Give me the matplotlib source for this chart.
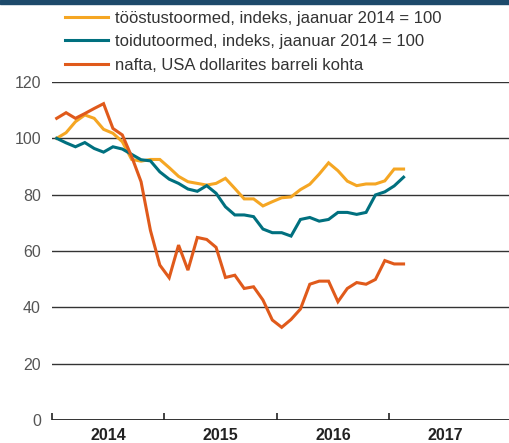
import numpy as np
import matplotlib.pyplot as plt
from matplotlib.lines import Line2D

plt.rcParams['font.family'] = ['Liberation Sans', 'DejaVu Sans']

# monthly values, January 2014 .. February 2017
industrial = [100, 102, 105.9, 108.3, 107.1, 103.2, 101.8, 98.8, 92.5, 91.9,
              92.5, 92.5, 89.6, 86.5, 84.6, 84.0, 83.4, 84.0, 85.8, 82.2,
              78.5, 78.5, 76.0, 77.5, 78.9, 79.2, 81.8, 83.7, 87.3, 91.3,
              88.5, 84.8, 83.2, 83.8, 83.8, 84.9, 89.1, 89.1]
food = [100, 98.4, 97.0, 98.5, 96.4, 95.1, 97.0, 96.2, 94.3, 92.4,
        92.0, 88.1, 85.5, 84.0, 82.0, 81.2, 83.2, 80.5, 75.7, 72.8,
        72.8, 72.2, 67.8, 66.5, 66.5, 65.3, 71.2, 71.9, 70.6, 71.2,
        73.7, 73.7, 73.0, 73.7, 79.9, 81.0, 83.1, 86.2]
oil = [107.1, 109.1, 107.1, 108.8, 110.6, 112.3, 103.5, 101.2, 93.5, 84.6,
       67.3, 55.0, 50.5, 62.1, 53.2, 64.8, 64.1, 61.3, 50.6, 51.4,
       46.7, 47.3, 42.6, 35.5, 32.9, 35.7, 39.4, 48.2, 49.3, 49.3,
       42.0, 46.7, 48.8, 48.2, 49.9, 56.6, 55.4, 55.4]

labels = ['tööstustoormed, indeks, jaanuar 2014 = 100',
          'toidutoormed, indeks, jaanuar 2014 = 100',
          'nafta, USA dollarites barreli kohta']
colors = ['#f5a623', '#00707f', '#e05a1b']
years = ['2014', '2015', '2016', '2017']
yticks = [0, 20, 40, 60, 80, 100, 120]

fig = plt.figure(figsize=(5.10, 4.43), dpi=100)
W, H = 510, 443
ax = fig.add_axes([52 / W, 23 / H, (W - 52) / W, (420 - 82) / H])

x = np.arange(len(oil)) + 0.5
for series, c in zip([industrial, food, oil], colors):
    ax.plot(x, series, color=c, lw=2.2, solid_joinstyle='miter', zorder=3)

ax.set_xlim(0, (W - 52) / 9.375)
ax.set_ylim(0, 120)

# gridlines
for y in yticks[1:]:
    ax.axhline(y, color='#333333', lw=1.0, zorder=1)
ax.axhline(0, color='#222222', lw=1.3, zorder=2)

for s in ax.spines.values():
    s.set_visible(False)

ax.set_yticks(yticks)
ax.set_yticklabels([str(v) for v in yticks], color='#555555', fontsize=11.5)
ax.tick_params(axis='y', length=0, pad=8)

ax.set_xticks([0, 12, 24, 36])
ax.set_xticklabels([])
ax.tick_params(axis='x', which='major', direction='in', length=5, width=1.2, color='#222222')
ax.set_xticks([6, 18, 30, 42], minor=True)
ax.set_xticklabels(years, minor=True, fontsize=11.5, fontweight='bold', color='#222222')
ax.tick_params(axis='x', which='minor', length=0, pad=6)

# top band
fig.patches.append(plt.Rectangle((0, 1 - 4 / H), 1, 4 / H, transform=fig.transFigure,
                                 color='#1d4a6b', zorder=5))

handles = [Line2D([], [], color=c, lw=2.2) for c in colors]
fig.legend(handles, labels, loc='upper left', bbox_to_anchor=(65 / W, 1 - 11 / H),
           frameon=False, fontsize=12, handlelength=2.6, handletextpad=0.4,
           labelspacing=0.5, borderpad=0, borderaxespad=0, labelcolor='#333333')

fig.savefig('out.png', dpi=100)
